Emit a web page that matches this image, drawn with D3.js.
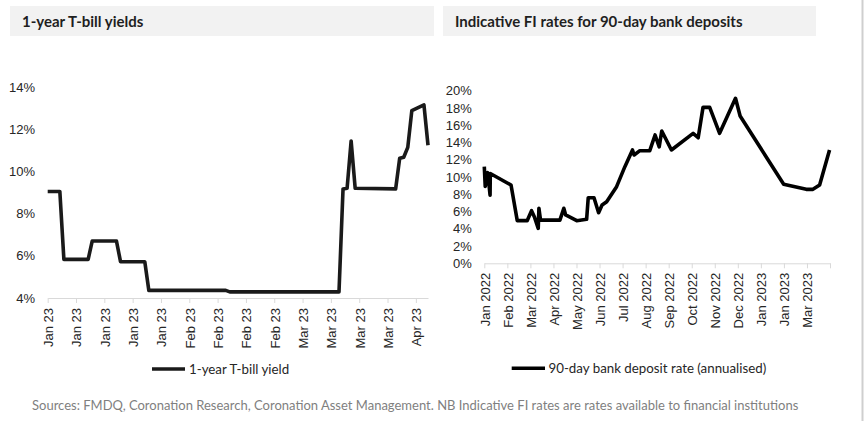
<!DOCTYPE html>
<html>
<head>
<meta charset="utf-8">
<script src="https://cdn.jsdelivr.net/npm/d3@7"></script>
<style>
  body { margin: 0; background: #fff; }
  svg { font-family: Lato, 'Open Sans', sans-serif; }
</style>
</head>
<body>
<svg id="chart" width="865" height="421"></svg>
<script>
// --- dati: rendimento T-bill a 1 anno (giornaliero, 2023)
const tbillDates = ['2023-01-03', '2023-01-06', '2023-01-07', '2023-01-13', '2023-01-14', '2023-01-20',
  '2023-01-21', '2023-01-27', '2023-01-28', '2023-02-16', '2023-02-17', '2023-03-16', '2023-03-17',
  '2023-03-18', '2023-03-19', '2023-03-20', '2023-03-30', '2023-03-31', '2023-04-01', '2023-04-02',
  '2023-04-03', '2023-04-06', '2023-04-07']
const tbillYields = [9.05, 9.05, 5.83, 5.83, 6.70, 6.70, 5.72, 5.72, 4.36, 4.36, 4.29, 4.29, 9.17,
  9.20, 11.44, 9.20, 9.17, 10.62, 10.67, 11.14, 12.88, 13.15, 11.24]
const tbillTicks = [4, 6, 8, 10, 12, 14]

// --- dati: tassi indicativi depositi bancari a 90 giorni (asse a categorie)
const depositLabels = ['Jan 2022', 'Feb 2022', 'Mar 2022', 'Apr 2022', 'May 2022', 'Jun 2022', 'Jul 2022',
  'Aug 2022', 'Sep 2022', 'Oct 2022', 'Nov 2022', 'Dec 2022', 'Jan 2023', 'Jan 2023', 'Mar 2023']
// posizione del punto in unità di etichetta (categoria)
const depositPos = [0, 0.04, 0.15, 0.25, 0.26, 1.16, 1.43, 1.86, 2.05, 2.17, 2.34, 2.37, 2.44, 3.28, 3.45,
  3.53, 4.01, 4.44, 4.51, 4.76, 4.96, 5.11, 5.31, 5.74, 6.10, 6.43, 6.50, 6.75, 7.18, 7.41, 7.59, 7.70,
  8.12, 9.06, 9.28, 9.49, 9.78, 10.21, 10.90, 11.10, 12.99, 13.97, 14.26, 14.55, 14.98]
const depositRates = [11.2, 8.9, 10.5, 7.9, 10.4, 9.07, 4.94, 4.94, 6.1, 5.4, 4.05, 6.37, 5.0, 5.0, 6.37,
  5.6, 4.94, 5.1, 7.6, 7.6, 5.86, 6.75, 7.14, 8.88, 11.2, 13.13, 12.55, 13.05, 13.05, 14.87, 13.5, 15.33,
  13.13, 15.06, 14.55, 18.07, 18.07, 15.06, 19.12, 17.07, 9.15, 8.57, 8.57, 9.07, 13.13]
const depositTicks = [0, 2, 4, 6, 8, 10, 12, 14, 16, 18, 20]

const lineColor = '#1a1a1a'
const axisColor = '#d9d9d9'
const textColor = '#262626'

const svg = d3.select('#chart')

// bordo grigio a destra
svg.append('rect')
  .attr('x', 861.5).attr('y', 0).attr('width', 2).attr('height', 421)
  .attr('fill', '#cfcfcf')

// intestazioni con fondo grigio
function titleBox(x, w, label) {
  svg.append('rect')
    .attr('x', x).attr('y', 6).attr('width', w).attr('height', 30)
    .attr('fill', '#f2f2f2')
  svg.append('text')
    .attr('x', x + 12).attr('y', 26.5)
    .attr('fill', '#1f1f1f')
    .style('font-weight', 'bold')
    .style('font-size', '15px')
    .text(label)
}
titleBox(10, 424, '1-year T-bill yields')
titleBox(443, 373, 'Indicative FI rates for 90-day bank deposits')

// stile comune asse x
function styleXAxis(g, endY) {
  g.select('path.domain').attr('stroke', axisColor)
  g.selectAll('.tick line').attr('stroke', axisColor)
  g.selectAll('.tick text')
    .attr('transform', 'rotate(-90)')
    .attr('x', -endY).attr('y', 0).attr('dy', '0.38em')
    .style('text-anchor', 'end')
    .style('font-size', '13px')
    .attr('fill', textColor)
}

function styleYAxis(g) {
  g.select('path.domain').remove()
  g.selectAll('.tick line').remove()
  g.selectAll('.tick text')
    .style('font-size', '13px')
    .attr('fill', textColor)
}

// ---------------- grafico sinistro ----------------
const parseDate = d3.timeParse('%Y-%m-%d')
const tbill = tbillDates.map((d, i) => ({ date: parseDate(d), value: tbillYields[i] }))

const xLeft = d3.scaleTime()
  .domain([parseDate('2023-01-03'), parseDate('2023-04-07')])
  .range([47.7, 428])
const yLeft = d3.scaleLinear().domain([4, 14]).range([298, 87])

const leftTickDates = d3.timeDay.range(parseDate('2023-01-03'), parseDate('2023-04-06'), 7)

const xAxisLeft = svg.append('g')
  .attr('transform', 'translate(0, 298)')
  .call(d3.axisBottom(xLeft)
    .tickValues(leftTickDates)
    .tickSize(5)
    .tickSizeOuter(0)
    .tickFormat(d3.timeFormat('%b %y')))
styleXAxis(xAxisLeft, 10)

const yAxisLeft = svg.append('g')
  .attr('transform', 'translate(35, 0)')
  .call(d3.axisLeft(yLeft).tickValues(tbillTicks).tickSize(0).tickPadding(0).tickFormat(d => d + '%'))
styleYAxis(yAxisLeft)

svg.append('path')
  .datum(tbill)
  .attr('fill', 'none')
  .attr('stroke', lineColor)
  .attr('stroke-width', 3.6)
  .attr('stroke-linejoin', 'round')
  .attr('d', d3.line().x(d => xLeft(d.date)).y(d => yLeft(d.value)))

// legenda sinistra
svg.append('line')
  .attr('x1', 152).attr('x2', 185).attr('y1', 369).attr('y2', 369)
  .attr('stroke', lineColor).attr('stroke-width', 3.6)
svg.append('text')
  .attr('x', 189).attr('y', 369).attr('dy', '0.35em')
  .style('font-size', '13.3px').attr('fill', textColor)
  .text('1-year T-bill yield')

// ---------------- grafico destro ----------------
const deposit = depositPos.map((p, i) => ({ pos: p, value: depositRates[i] }))

const xRight = d3.scaleLinear().domain([0, depositLabels.length]).range([484.3, 830])
const yRight = d3.scaleLinear().domain([0, 20]).range([263.3, 90.7])

const xAxisRight = svg.append('g')
  .attr('transform', 'translate(0, 263.3)')
  .call(d3.axisBottom(xRight)
    .tickValues(d3.range(depositLabels.length + 1))
    .tickSize(5)
    .tickSizeOuter(0)
    .tickFormat(i => depositLabels[i] || ''))
styleXAxis(xAxisRight, 9.5)

const yAxisRight = svg.append('g')
  .attr('transform', 'translate(471.7, 0)')
  .call(d3.axisLeft(yRight).tickValues(depositTicks).tickSize(0).tickPadding(0).tickFormat(d => d + '%'))
styleYAxis(yAxisRight)

svg.append('path')
  .datum(deposit)
  .attr('fill', 'none')
  .attr('stroke', '#000')
  .attr('stroke-width', 3.6)
  .attr('stroke-linejoin', 'round')
  .attr('d', d3.line().x(d => xRight(d.pos)).y(d => yRight(d.value)))

// legenda destra
svg.append('line')
  .attr('x1', 511.7).attr('x2', 545).attr('y1', 368.3).attr('y2', 368.3)
  .attr('stroke', '#000').attr('stroke-width', 3.6)
svg.append('text')
  .attr('x', 548.5).attr('y', 368.3).attr('dy', '0.35em')
  .style('font-size', '13.3px').attr('fill', textColor)
  .text('90-day bank deposit rate (annualised)')

// fonte
svg.append('text')
  .attr('x', 32).attr('y', 410)
  .style('font-size', '13px').attr('fill', '#7f7f7f')
  .text('Sources: FMDQ, Coronation Research, Coronation Asset Management. NB Indicative FI rates are rates available to financial institutions')
</script>
</body>
</html>
